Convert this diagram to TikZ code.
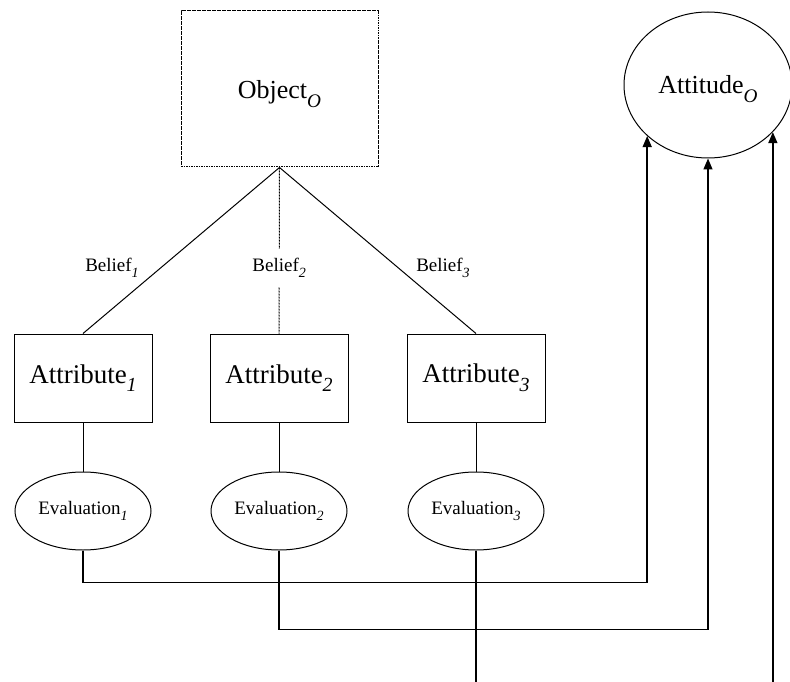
\documentclass[tikz,border=0pt]{standalone}
\usepackage{fontspec}
\setmainfont{Liberation Serif}
\usetikzlibrary{shapes.geometric,arrows.meta}
% italic subscript, set a little lower than \textsubscript
\newcommand\lsub[1]{\raisebox{-0.32em}{\scalebox{0.74}{\itshape #1}}}
\begin{document}
\begin{tikzpicture}[x=1pt,y=1pt,
  line width=1pt,
  objbox/.style={draw, dash pattern=on 1.6pt off 0.9pt, minimum width=197pt, minimum height=156pt, inner sep=0pt},
  bigtext/.style={inner sep=0pt, font=\fontsize{26}{30}\selectfont},
  attrbox/.style={draw, minimum width=138pt, minimum height=88pt, inner sep=0pt, font=\fontsize{27}{30}\selectfont},
  evalnode/.style={draw, ellipse, minimum width=136pt, minimum height=78pt, inner sep=0pt, font=\fontsize{19}{22}\selectfont},
  attnode/.style={draw, ellipse, minimum width=168pt, minimum height=146pt, inner sep=0pt},
  belieflabel/.style={font=\fontsize{19}{22}\selectfont, inner sep=0pt},
  link/.style={line width=1pt},
  feed/.style={line width=1.4pt, -{Triangle[length=11pt,width=9pt]}}
]
\useasboundingbox (0,0) rectangle (790,-682);

% object, attributes and their evaluations
\node[objbox] (obj) at (279.5,-89) {};
\node[bigtext] (objtext) at (279.5,-94) {Object\lsub{O}};
\node[attrbox] (a1) at (83,-378) {Attribute\lsub{1}};
\node[attrbox] (a2) at (279,-378) {Attribute\lsub{2}};
\node[attrbox] (a3) at (476,-378) {Attribute\lsub{3}};
\node[evalnode] (e1) at (83,-511) {Evaluation\lsub{1}};
\node[evalnode] (e2) at (279,-511) {Evaluation\lsub{2}};
\node[evalnode] (e3) at (476,-511) {Evaluation\lsub{3}};
\node[attnode] (att) at (708,-85) {};
\node[bigtext] (atttext) at (708,-89) {Attitude\lsub{O}};

% beliefs linking the object to its attributes
\draw[link] (obj.south) -- (a1.north);
\draw[link, dash pattern=on 2pt off 1pt] (obj.south) -- (a2.north)
  node[pos=0.605, fill=white, belieflabel, inner ysep=9pt, inner xsep=2pt] (b2) {Belief\lsub{2}};
\draw[link] (obj.south) -- (a3.north);
\node[belieflabel] (b1) at (112,-268) {Belief\lsub{1}};
\node[belieflabel] (b3) at (443,-268) {Belief\lsub{3}};

% attribute to evaluation
\draw[link] (a1.south) -- (e1.north);
\draw[link] (a2.south) -- (e2.north);
\draw[link] (a3.south) -- (e3.north);

% evaluations feeding the attitude
\coordinate (e3end) at (e3.south |- 0,-682);
\coordinate (rend) at (att.324.1 |- 0,-682);
\draw[feed] (e1.south) -- ++(0,-32) -| (att.220.75);
\draw[feed] (e2.south) -- ++(0,-79) -| (att.south);
\draw[line width=1.4pt] (e3.south) -- (e3end);
\draw[feed] (rend) -- (att.324.1);
\end{tikzpicture}
\end{document}
